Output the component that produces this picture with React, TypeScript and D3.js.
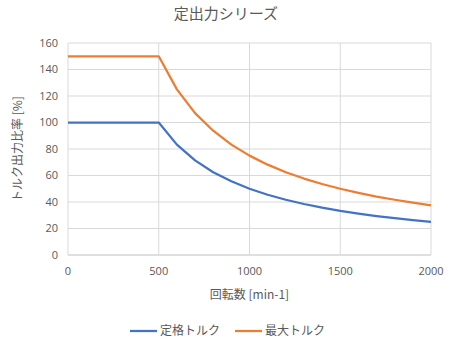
import React, { useEffect, useRef } from 'react';
import * as d3 from 'd3';

const speeds = [0, 500, 600, 700, 800, 900, 1000, 1100, 1200, 1300, 1400, 1500, 1600, 1700, 1800, 1900, 2000];
const ratedTorque = [100, 100, 83.3, 71.4, 62.5, 55.6, 50, 45.5, 41.7, 38.5, 35.7, 33.3, 31.3, 29.4, 27.8, 26.3, 25];
const maxTorque = [150, 150, 125, 107.1, 93.8, 83.3, 75, 68.2, 62.5, 57.7, 53.6, 50, 46.9, 44.1, 41.7, 39.5, 37.5];
const xTicks = [0, 500, 1000, 1500, 2000];
const yTicks = [0, 20, 40, 60, 80, 100, 120, 140, 160];
const seriesNames = ['定格トルク', '最大トルク'];
const seriesColors = ['#4472c4', '#ed7d31'];

const jpFont = '"Noto Sans CJK JP", "Noto Sans", sans-serif';
const numFont = '"Open Sans", "Liberation Sans", sans-serif';

const App = () => {
  const svgRef = useRef<SVGSVGElement>(null);
  const width = 460;
  const height = 351;

  useEffect(() => {
    const svg = d3.select(svgRef.current);
    svg.selectAll('*').remove();

    const margin = { top: 43, right: 29, bottom: 96, left: 68 };
    const innerWidth = width - margin.left - margin.right;
    const innerHeight = height - margin.top - margin.bottom;

    svg.append('rect').attr('width', width).attr('height', height).attr('fill', '#fff');

    const g = svg.append('g').attr('transform', `translate(${margin.left},${margin.top})`);

    const x = d3.scaleLinear().domain([0, 2000]).range([0, innerWidth]);
    const y = d3.scaleLinear().domain([0, 160]).range([innerHeight, 0]);

    // grid
    g.selectAll('.hgrid')
      .data(yTicks)
      .join('line')
      .attr('x1', 0)
      .attr('x2', innerWidth)
      .attr('y1', (d) => y(d))
      .attr('y2', (d) => y(d))
      .attr('stroke', (d) => (d === 0 ? '#bfbfbf' : '#d9d9d9'))
      .attr('stroke-width', 1);

    g.selectAll('.vgrid')
      .data(xTicks)
      .join('line')
      .attr('x1', (d) => x(d))
      .attr('x2', (d) => x(d))
      .attr('y1', 0)
      .attr('y2', innerHeight)
      .attr('stroke', '#d9d9d9')
      .attr('stroke-width', 1);

    // tick labels
    g.selectAll('.ylab')
      .data(yTicks)
      .join('text')
      .attr('x', -10)
      .attr('y', (d) => y(d))
      .attr('dy', '0.35em')
      .attr('text-anchor', 'end')
      .attr('font-family', numFont)
      .attr('font-size', 11)
      .attr('fill', '#595959')
      .text((d) => d);

    g.selectAll('.xlab')
      .data(xTicks)
      .join('text')
      .attr('x', (d) => x(d))
      .attr('y', innerHeight + 20)
      .attr('text-anchor', 'middle')
      .attr('font-family', numFont)
      .attr('font-size', 11)
      .attr('fill', '#595959')
      .text((d) => d);

    // lines
    const series = [ratedTorque, maxTorque];
    const line = d3
      .line<number>()
      .x((_, i) => x(speeds[i]))
      .y((d) => y(d));

    series.forEach((vals, k) => {
      g.append('path')
        .datum(vals)
        .attr('d', line)
        .attr('fill', 'none')
        .attr('stroke', seriesColors[k])
        .attr('stroke-width', 2.25)
        .attr('stroke-linejoin', 'round');
    });

    // title
    svg.append('text')
      .attr('x', 226)
      .attr('y', 19)
      .attr('text-anchor', 'middle')
      .attr('font-family', jpFont)
      .attr('font-size', 15)
      .attr('fill', '#595959')
      .text('定出力シリーズ');

    // axis titles
    svg.append('text')
      .attr('x', margin.left + innerWidth / 2)
      .attr('y', 299)
      .attr('text-anchor', 'middle')
      .attr('font-family', jpFont)
      .attr('font-size', 12)
      .attr('fill', '#595959')
      .text('回転数 [min-1]');

    svg.append('text')
      .attr('transform', `translate(22,${margin.top + innerHeight / 2}) rotate(-90)`)
      .attr('text-anchor', 'middle')
      .attr('font-family', jpFont)
      .attr('font-size', 12)
      .attr('fill', '#595959')
      .text('トルク出力比率 [%]');

    // legend
    const legendX = [130, 235];
    seriesNames.forEach((name, k) => {
      svg.append('line')
        .attr('x1', legendX[k])
        .attr('x2', legendX[k] + 27)
        .attr('y1', 331)
        .attr('y2', 331)
        .attr('stroke', seriesColors[k])
        .attr('stroke-width', 2.25);
      svg.append('text')
        .attr('x', legendX[k] + 30)
        .attr('y', 331)
        .attr('dy', '0.35em')
        .attr('font-family', jpFont)
        .attr('font-size', 12)
        .attr('fill', '#595959')
        .text(name);
    });
  }, []);

  return (
    <svg
      ref={svgRef}
      width={width}
      height={height}
      style={{ position: 'absolute', left: 0, top: 0, display: 'block' }}
    />
  );
};

export default App;
